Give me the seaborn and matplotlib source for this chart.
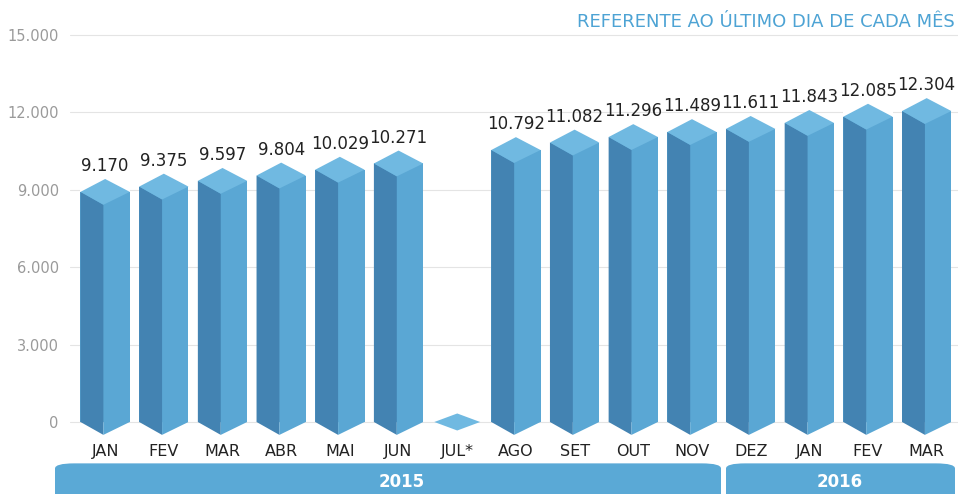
import numpy as np
import pandas as pd
import matplotlib
matplotlib.use("Agg")
import matplotlib.pyplot as plt
from matplotlib.patches import Polygon, FancyBboxPatch
import seaborn as sns

# Dados (valor referente ao último dia de cada mês)
months = ["JAN", "FEV", "MAR", "ABR", "MAI", "JUN", "JUL*", "AGO",
          "SET", "OUT", "NOV", "DEZ", "JAN ", "FEV ", "MAR "]
tick_labels = ["JAN", "FEV", "MAR", "ABR", "MAI", "JUN", "JUL*", "AGO",
               "SET", "OUT", "NOV", "DEZ", "JAN", "FEV", "MAR"]
values = [9170, 9375, 9597, 9804, 10029, 10271, np.nan, 10792,
          11082, 11296, 11489, 11611, 11843, 12085, 12304]
y_ticks = [0, 3000, 6000, 9000, 12000, 15000]
years = ["2015", "2016"]

c_right = "#5aa7d4"
c_left = "#4383b2"
c_top = "#70b9e1"

sns.set_style("white")
plt.rcParams["font.family"] = ["DejaVu Sans"]

df = pd.DataFrame({"mes": months, "valor": values})

fig = plt.figure(figsize=(9.58, 4.94), dpi=100)
ax = fig.add_axes([0.073, 0.104, 0.928, 0.846])

bw = 0.84
sns.barplot(data=df, x="mes", y="valor", color=c_right, width=bw,
            saturation=1, ax=ax, zorder=3, linewidth=0)

w = bw / 2
f = -0.03   # posição da aresta frontal
h = 250     # metade da altura do losango (unidades do eixo)
for i, v in enumerate(values):
    if np.isnan(v):
        # só o losango no nível zero
        ax.add_patch(Polygon([(i - 0.39, 0), (i, 330), (i + 0.39, 0), (i, -330)],
                             closed=True, facecolor=c_top, edgecolor="none", zorder=4))
        continue
    cv = v - h
    # face esquerda
    ax.add_patch(Polygon([(i - w, cv), (i + f, cv - 2 * h), (i + f, -2 * h), (i - w, 0)],
                         closed=True, facecolor=c_left, edgecolor="none", zorder=4))
    # face direita (parte inferior em V)
    ax.add_patch(Polygon([(i + f, 0), (i + f, -2 * h), (i + w, 0)],
                         closed=True, facecolor=c_right, edgecolor="none", zorder=4))
    # cobre o topo retangular da barra
    ax.add_patch(Polygon([(i - w, cv), (i - w, v + 20), (i + w, v + 20), (i + w, cv)],
                         closed=True, facecolor="white", edgecolor="none", zorder=3.5))
    # topo (losango)
    ax.add_patch(Polygon([(i - w, cv), (i, v + h), (i + w, cv), (i + f, cv - 2 * h)],
                         closed=True, facecolor=c_top, edgecolor="none", zorder=4))
    ax.text(i, v + 400, f"{int(v):,}".replace(",", "."), ha="center", va="bottom",
            fontsize=12, color="#222222", zorder=5)

ax.set_xlim(-0.6, 14.55)
ax.set_ylim(-800, 15400)
ax.set_yticks(y_ticks)
ax.set_yticklabels([f"{t:,}".replace(",", ".") for t in y_ticks], color="#9a9a9a", fontsize=10.5)
ax.set_xticks(range(len(tick_labels)))
ax.set_xticklabels(tick_labels, color="#222222", fontsize=11.5)
ax.tick_params(axis="y", length=0, pad=8)
ax.tick_params(axis="x", length=0, pad=1)
ax.set_xlabel("")
ax.set_ylabel("")
ax.grid(axis="y", color="#e4e4e4", linewidth=0.8, zorder=0)
ax.grid(axis="x", visible=False)
sns.despine(ax=ax, left=True, bottom=True)

fig.text(0.997, 0.955, "REFERENTE AO ÚLTIMO DIA DE CADA MÊS", ha="right", va="center",
         fontsize=13, color="#4da3d4")

# faixa dos anos
band = "#5aa9d6"
fig.patches.append(FancyBboxPatch((55 / 958, -0.05), 666 / 958, 0.112,
                                  boxstyle="round,pad=0,rounding_size=0.02",
                                  transform=fig.transFigure, facecolor=band,
                                  edgecolor="none", mutation_aspect=494 / 958))
fig.patches.append(FancyBboxPatch((726 / 958, -0.05), 229 / 958, 0.112,
                                  boxstyle="round,pad=0,rounding_size=0.02",
                                  transform=fig.transFigure, facecolor=band,
                                  edgecolor="none", mutation_aspect=494 / 958))
fig.text(402 / 958, 0.025, years[0], ha="center", va="center", fontsize=12,
         fontweight="bold", color="white")
fig.text(840 / 958, 0.025, years[1], ha="center", va="center", fontsize=12,
         fontweight="bold", color="white")

fig.savefig("out.png", dpi=100)
